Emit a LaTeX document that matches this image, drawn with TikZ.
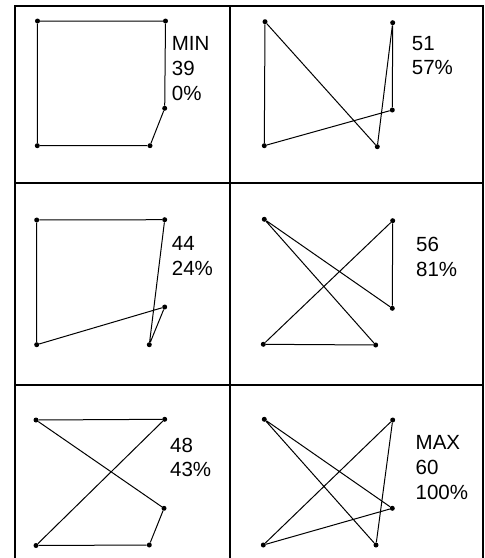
\documentclass[tikz,border=0pt]{standalone}
\usepackage{fontspec}
\setmainfont{Liberation Sans}
\begin{document}
\begin{tikzpicture}[x=1pt,y=-1pt,
  framestyle/.style={line width=1.3pt,black},
  edgestyle/.style={line width=1pt,black},
  dot/.style={circle,fill=black,inner sep=0pt,minimum size=5pt},
  lbl/.style={anchor=base west,inner sep=0pt,font=\fontsize{20.5}{25}\selectfont}]
\useasboundingbox (0,0) rectangle (485,558);
% frame
\coordinate (ftl) at (15,6);
\coordinate (ftr) at (483,6);
\coordinate (fbl) at (15,558);
\coordinate (fbr) at (483,558);
\coordinate (fmt) at (230,6);
\coordinate (fmb) at (230,558);
\coordinate (h1l) at (15,183);
\coordinate (h1r) at (483,183);
\coordinate (h2l) at (15,385);
\coordinate (h2r) at (483,385);
\draw[framestyle] (fbl) -- (ftl) -- (ftr) -- (fbr);
\draw[framestyle] (fmt) -- (fmb);
\draw[framestyle] (h1l) -- (h1r);
\draw[framestyle] (h2l) -- (h2r);
% cell 1
\node[dot] (p1a) at (37.5,21) {};
\node[dot] (p1b) at (165.5,21) {};
\node[dot] (p1c) at (164.7,108.3) {};
\node[dot] (p1d) at (150,145.7) {};
\node[dot] (p1e) at (37.3,145.7) {};
\draw[edgestyle] (p1a) -- (p1b) -- (p1c) -- (p1d) -- (p1e) -- (p1a);
\node[lbl] (t1a) at (171.7,50.7) {MIN};
\node[lbl] (t1b) at (171.7,75.5) {39};
\node[lbl] (t1c) at (171.7,100.3) {0\%};
% cell 2
\node[dot] (p2a) at (265,21.7) {};
\node[dot] (p2b) at (392.7,22.7) {};
\node[dot] (p2c) at (392.3,110) {};
\node[dot] (p2d) at (377.3,146.7) {};
\node[dot] (p2e) at (264.3,145.7) {};
\draw[edgestyle] (p2a) -- (p2d) -- (p2b) -- (p2c) -- (p2e) -- (p2a);
\node[lbl] (t2a) at (411.7,50.3) {51};
\node[lbl] (t2b) at (411.7,74.5) {57\%};
% cell 3
\node[dot] (p3a) at (36.7,220) {};
\node[dot] (p3b) at (164.7,219.7) {};
\node[dot] (p3c) at (164.7,307) {};
\node[dot] (p3d) at (149.3,344.7) {};
\node[dot] (p3e) at (36.7,344.7) {};
\draw[edgestyle] (p3a) -- (p3b) -- (p3d) -- (p3c) -- (p3e) -- (p3a);
\node[lbl] (t3a) at (171.7,250) {44};
\node[lbl] (t3b) at (171.7,275) {24\%};
% cell 4
\node[dot] (p4a) at (264.3,219.3) {};
\node[dot] (p4b) at (392.7,220.7) {};
\node[dot] (p4c) at (392.3,308.3) {};
\node[dot] (p4d) at (375.7,345) {};
\node[dot] (p4e) at (263.3,344.3) {};
\draw[edgestyle] (p4a) -- (p4c) -- (p4b) -- (p4e) -- (p4d) -- (p4a);
\node[lbl] (t4a) at (416,251.7) {56};
\node[lbl] (t4b) at (416,276.7) {81\%};
% cell 5
\node[dot] (p5a) at (36,420) {};
\node[dot] (p5b) at (164.7,419.3) {};
\node[dot] (p5c) at (164,508.3) {};
\node[dot] (p5d) at (149.3,545) {};
\node[dot] (p5e) at (36,545.5) {};
\draw[edgestyle] (p5a) -- (p5b) -- (p5e) -- (p5d) -- (p5c) -- (p5a);
\node[lbl] (t5a) at (170,452) {48};
\node[lbl] (t5b) at (170,476.7) {43\%};
% cell 6
\node[dot] (p6a) at (264.3,419.3) {};
\node[dot] (p6b) at (392.7,420) {};
\node[dot] (p6c) at (392.3,508.3) {};
\node[dot] (p6d) at (376,545) {};
\node[dot] (p6e) at (263.3,545) {};
\draw[edgestyle] (p6a) -- (p6c) -- (p6e) -- (p6b) -- (p6d) -- (p6a);
\node[lbl] (t6a) at (415.5,449.5) {MAX};
\node[lbl] (t6b) at (415.5,474) {60};
\node[lbl] (t6c) at (415.5,499) {100\%};
\end{tikzpicture}
\end{document}
